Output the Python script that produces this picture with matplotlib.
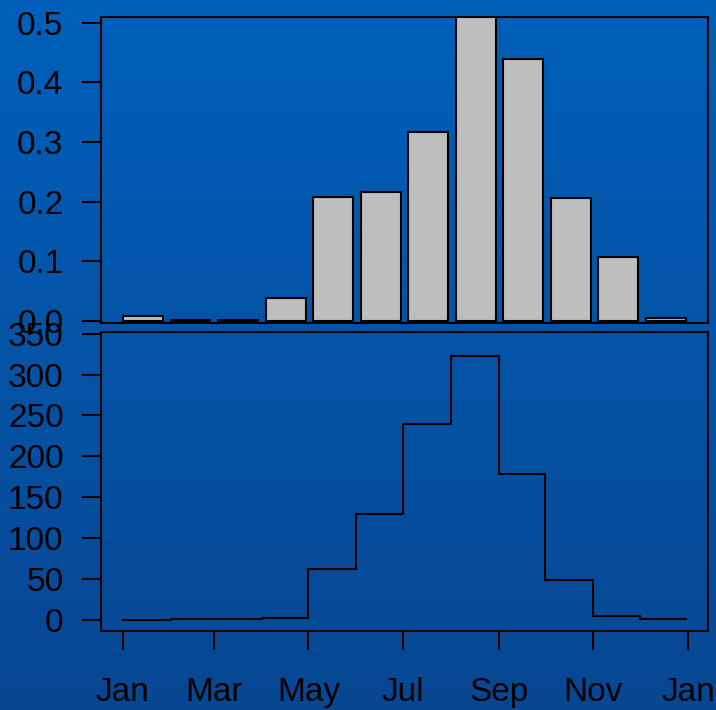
import datetime as dt
import matplotlib.pyplot as plt
import numpy as np

plt.rcParams['font.family'] = ['Liberation Sans', 'DejaVu Sans']

# Monthly proportions (bars) and monthly totals (step line)
months = ['Jan', 'Feb', 'Mar', 'Apr', 'May', 'Jun',
          'Jul', 'Aug', 'Sep', 'Oct', 'Nov', 'Dec']
proportion = [0.008, 0.001, 0.002, 0.038, 0.208, 0.216,
              0.316, 0.512, 0.439, 0.206, 0.108, 0.0055]
totals = [0.3, 0.6, 1.2, 2.0, 62, 130, 239, 323, 179, 49, 4.5, 1.2]
year = 2001
month_starts = [dt.date(year, m, 1) for m in range(1, 13)]
year_end = dt.date(year, 12, 31)
tick_labels = ['Jan', 'Mar', 'May', 'Jul', 'Sep', 'Nov', 'Jan']
tick_dates = [dt.date(year, m, 1) for m in (1, 3, 5, 7, 9, 11)] + [dt.date(year + 1, 1, 1)]

fig = plt.figure(figsize=(7.16, 7.10), dpi=100)

# vertical blue gradient behind everything
bg = fig.add_axes([0, 0, 1, 1], zorder=-10)
top = np.array([0, 96, 186]) / 255
bot = np.array([8, 71, 146]) / 255
t = np.linspace(0, 1, 256)[:, None]
grad = (top * (1 - t) + bot * t)[:, None, :]
bg.imshow(grad, aspect='auto', extent=[0, 1, 0, 1])
bg.axis('off')

W, H = 716, 710
lw = 1.5
fs = 24

def frame(ax):
    ax.set_facecolor('none')
    for s in ax.spines.values():
        s.set_linewidth(lw)
        s.set_color('black')
    ax.tick_params(axis='y', length=14, width=lw, pad=13, labelsize=fs, colors='black')

# top: bars of monthly proportions
ax1 = fig.add_axes([101 / W, 1 - 323 / H, 607 / W, 306 / H])
frame(ax1)
x = np.arange(len(months))
ax1.bar(x, proportion, width=0.84, color='#bebebe', edgecolor='black', linewidth=lw)
ax1.set_xlim(-0.884, 11.89)
ax1.set_ylim(-0.0034, 0.5095)
ax1.set_yticks([0.0, 0.1, 0.2, 0.3, 0.4, 0.5])
ax1.set_yticklabels(['0.0', '0.1', '0.2', '0.3', '0.4', '0.5'])
ax1.set_xticks([])

# bottom: monthly totals as a step line
ax2 = fig.add_axes([101 / W, 1 - 631 / H, 607 / W, 299 / H])
frame(ax2)
ax2.step(month_starts + [year_end], totals + [totals[-1]], where='post',
         color='black', linewidth=lw)
span = (year_end - month_starts[0]).days
pad = dt.timedelta(days=span * 0.04)
ax2.set_xlim(month_starts[0] - pad, year_end + pad)
ax2.set_ylim(-13.5, 352)
ax2.set_yticks(range(0, 351, 50))
ax2.set_xticks(tick_dates)
ax2.set_xticklabels(tick_labels)
ax2.tick_params(axis='x', length=14, width=lw, pad=19, labelsize=fs, colors='black')

fig.savefig('out.png', dpi=100)
